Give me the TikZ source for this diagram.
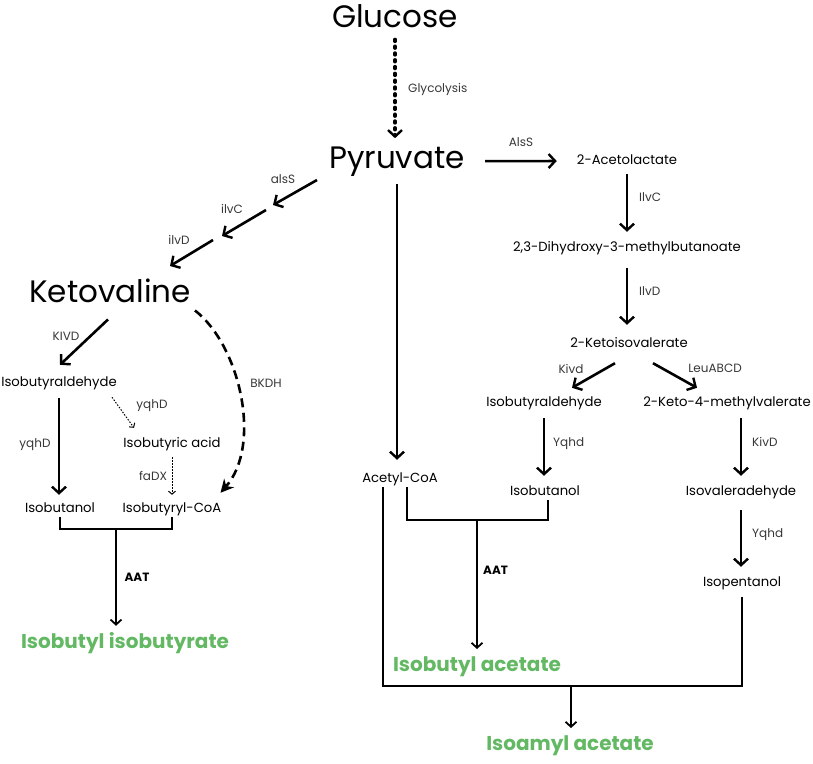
\documentclass[tikz,border=0pt]{standalone}
\usepackage{fontspec}
\setmainfont{Poppins}
\usepackage{xcolor}
\usepackage{tikz}
\usetikzlibrary{arrows.meta, positioning, calc}
\definecolor{prodgreen}{RGB}{99,184,99}
\definecolor{enzgray}{RGB}{55,55,55}
\tikzset{
  big/.style     = {font=\fontsize{31}{34}\selectfont, inner sep=0pt, anchor=base},
  met/.style     = {font=\fontsize{13.2}{15}\selectfont, inner sep=2pt,
                    text height=9pt, text depth=3pt, anchor=base},
  enz/.style     = {font=\fontsize{12}{14}\selectfont, text=enzgray,
                    inner sep=0pt, anchor=base},
  aat/.style     = {font=\fontsize{12}{14}\selectfont\bfseries, inner sep=0pt,
                    anchor=base},
  prod/.style    = {font=\fontsize{20}{22}\selectfont\bfseries, text=prodgreen,
                    inner sep=0pt, anchor=base},
  rxn/.style     = {-{Straight Barb[length=6.5pt, width=14pt, line width=2.4pt]},
                    line width=2.6pt},
  glyc/.style    = {-{Straight Barb[length=6.5pt, width=14pt, line width=2.4pt]},
                    line width=3.6pt, line cap=round, dash pattern=on 1.8pt off 5pt},
  side/.style    = {-{Straight Barb[length=3pt, width=7pt]}, line width=1pt,
                    dash pattern=on 1.5pt off 1.5pt},
  bkdh/.style    = {-{Stealth[length=13pt, width=13pt]}, line width=2.6pt,
                    dash pattern=on 9pt off 5.5pt},
  joinline/.style  = {line width=2pt},
  joinarrow/.style = {-{Straight Barb[length=5pt, width=11pt, line width=1.8pt]},
                    line width=2pt},
}

\begin{document}
\begin{tikzpicture}[x=1pt, y=1pt]
  \useasboundingbox (0,0) rectangle (813,-763);

  % central trunk
  \node[big] (glc) at (395,-27) {Glucose};
  \node[big] (pyr) at (397,-168) {Pyruvate};
  \node[met] (acoa) at (400,-482) {Acetyl-CoA};

  % right branch
  \node[met] (ala) at (627,-164) {2-Acetolactate};
  \node[met] (dhmb) at (627,-251) {2,3-Dihydroxy-3-methylbutanoate};
  \node[met] (kiv) at (629,-347) {2-Ketoisovalerate};
  \node[met] (ibaldR) at (544,-406) {Isobutyraldehyde};
  \node[met] (kmv) at (727,-406) {2-Keto-4-methylvalerate};
  \node[met] (iboR) at (545,-495) {Isobutanol};
  \node[met] (ival) at (741,-495) {Isovaleradehyde};
  \node[met] (ipen) at (742,-586) {Isopentanol};

  % left branch
  \node[big] (kval) at (110,-302) {Ketovaline};
  \node[met] (ibaldL) at (59,-386) {Isobutyraldehyde};
  \node[met] (ibacid) at (172,-447) {Isobutyric acid};
  \node[met] (iboL) at (60,-512) {Isobutanol};
  \node[met] (ibcoa) at (172,-512) {Isobutyryl-CoA};

  % products
  \node[prod] (ibib) at (125,-648) {Isobutyl isobutyrate};
  \node[prod] (iba) at (477,-671) {Isobutyl acetate};
  \node[prod] (iaa) at (570,-750) {Isoamyl acetate};

  % enzymes
  \node[enz, anchor=base west] (eGly) at (408,-92) {Glycolysis};
  \node[enz] (eAlsS) at (521,-146) {AlsS};
  \node[enz, anchor=base west] (eIlvC) at (639,-201) {IlvC};
  \node[enz, anchor=base west] (eIlvD) at (639,-295) {IlvD};
  \node[enz] (eKivd) at (571,-373) {Kivd};
  \node[enz] (eLeu) at (715,-372) {LeuABCD};
  \node[enz, anchor=base west] (eYqR) at (553,-446) {Yqhd};
  \node[enz, anchor=base west] (eKivD) at (752,-446) {KivD};
  \node[enz, anchor=base west] (eYqR2) at (752,-537) {Yqhd};
  \node[aat, anchor=base west] (eAATR) at (483,-574) {AAT};
  \node[enz] (ealsS) at (283,-183) {alsS};
  \node[enz] (eilvC) at (232,-213) {ilvC};
  \node[enz] (eilvD) at (179,-244) {ilvD};
  \node[enz] (eKIVD) at (66,-340) {KIVD};
  \node[enz] (eBKDH) at (266,-387) {BKDH};
  \node[enz] (eyqhD) at (152,-408) {yqhD};
  \node[enz] (eyqhDL) at (35,-447) {yqhD};
  \node[enz] (efaDX) at (153,-480) {faDX};
  \node[aat] (eAATL) at (137,-581) {AAT};

  % join points
  \coordinate (jl) at (116,-529);
  \coordinate (jr) at (477,-520);
  \coordinate (jo) at (571,-686);
  \coordinate (v1) at (317,-180);
  \coordinate (v2) at (273,-205);
  \coordinate (v3) at (266,-210);
  \coordinate (v4) at (222,-236);
  \coordinate (v5) at (213,-240);
  \coordinate (v6) at (170,-266);

  % trunk
  \draw[glyc, shorten <=12pt, shorten >=8pt] (glc.south) -- (glc.south |- pyr.north);
  \draw[rxn, shorten <=8pt, shorten >=11pt] (pyr.south) -- (pyr.south |- acoa.north);

  % right branch
  \draw[rxn, shorten <=20pt, shorten >=18pt] (pyr.east) -- (ala.west);
  \draw[rxn, shorten <=5pt, shorten >=8pt] (ala.south) -- (dhmb.north);
  \draw[rxn, shorten <=12pt, shorten >=11pt] (dhmb.south) -- (dhmb.south |- kiv.north);
  \draw[rxn] ([xshift=-14pt, yshift=-11pt]kiv.south) -- ([xshift=28pt, yshift=7pt]ibaldR.north);
  \draw[rxn] ([xshift=24pt, yshift=-11pt]kiv.south) -- ([xshift=-30pt, yshift=7pt]kmv.north);
  \draw[rxn, shorten <=7pt, shorten >=8pt] (ibaldR.south) -- (ibaldR.south |- iboR.north);
  \draw[rxn, shorten <=7pt, shorten >=8pt] ([xshift=14pt]kmv.south) -- ([xshift=14pt]kmv.south |- ival.north);
  \draw[rxn, shorten <=10pt, shorten >=8pt] (ival.south) -- (ival.south |- ipen.north);

  \draw[joinline] ([xshift=7pt]acoa.south) |- (jr) -| ([xshift=3pt]iboR.south);
  \draw[joinarrow, shorten >=7pt] (jr) -- (jr |- iba.north);
  \draw[joinline] ([yshift=-6pt]ipen.south) |- (jo) -| ([xshift=-17pt]acoa.south);
  \draw[joinarrow, shorten >=7pt] (jo) -- (jo |- iaa.north);

  % left branch
  \draw[rxn] (v1) -- (v2);
  \draw[rxn] (v3) -- (v4);
  \draw[rxn] (v5) -- (v6);
  \draw[rxn] ([xshift=-2pt, yshift=-17pt]kval.south) -- ([xshift=1pt, yshift=10pt]ibaldL.north);
  \draw[rxn, shorten <=7pt, shorten >=6pt] (ibaldL.south) -- (ibaldL.south |- iboL.north);
  \draw[side] ([xshift=53pt, yshift=-6pt]ibaldL.south) -- ([xshift=-38pt, yshift=8pt]ibacid.north);
  \draw[side, shorten <=5pt, shorten >=6pt] (ibacid.south) -- (ibcoa.north);
  \draw[bkdh] ([xshift=4pt, yshift=-8pt]kval.south east)
    .. controls +(45,-35) and +(42,48) .. ([xshift=-3pt, yshift=8pt]ibcoa.north east);

  \draw[joinline] (iboL.south) |- (jl) -| (ibcoa.south);
  \draw[joinarrow, shorten >=6pt] (jl) -- (jl |- ibib.north);
\end{tikzpicture}
\end{document}
